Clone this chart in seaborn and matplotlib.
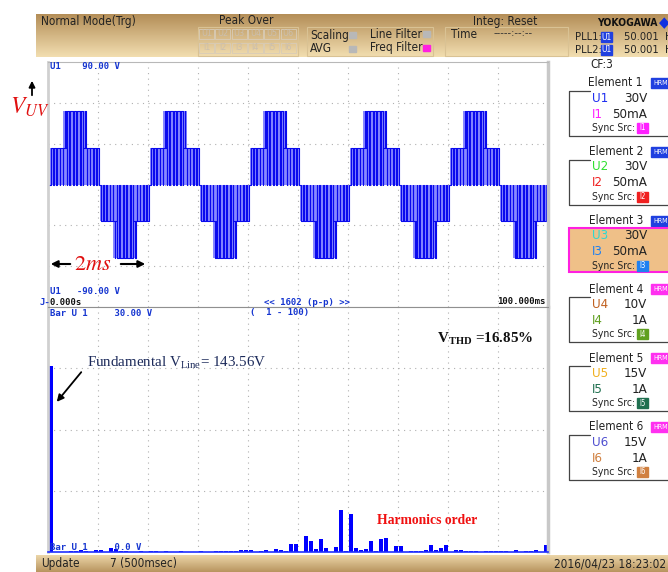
import matplotlib
matplotlib.use("Agg")
import matplotlib.pyplot as plt
from matplotlib.colors import LinearSegmentedColormap
from matplotlib.patches import FancyArrowPatch, Rectangle
import numpy as np
import pandas as pd
import seaborn as sns

W, H = 668, 572

# ── Data ─────────────────────────────────────────────────────────────
# U1 trace: one half cycle split in carrier slots, levels in V
PERIOD_MS = 20.0
N_CYCLES = 5
PHASE_MS = 0.4
SLOT_MS = 10.0 / 15
SLOT_LOW = [0, 0, 0, 0, 27, 0, 27, 0, 27, 0, 27, 0, 0, 0, 0]
SLOT_HIGH = [27, 27, 27, 27, 54, 54, 54, 54, 54, 54, 54, 27, 27, 27, 27]
SLOT_DUTY = [0.55, 0.75, 0.88, 0.95, 0.3, 0.6, 0.8, 0.85, 0.8, 0.6, 0.3, 0.95, 0.88, 0.75, 0.55]

# harmonic bar graph, orders 1..100, V on a 30 V full scale
HARM_ORDER = list(range(1, 101))
HARM_V = [
    22.8, 0, 0, 0, 0.1, 0.1, 0.25, 0.15, 0.05, 0.25,
    0.3, 0.05, 0.55, 0.4, 0.1, 0.1, 0.05, 0, 0.12, 0,
    0.15, 0.15, 0, 0.12, 0.05, 0, 0.1, 0, 0, 0,
    0.1, 0, 0, 0.12, 0.1, 0.1, 0.1, 0.1, 0.2, 0.2,
    0.2, 0, 0.1, 0.25, 0, 0.35, 0.2, 0.1, 0.95, 0.95,
    0, 1.95, 1.35, 0.4, 1.55, 0.5, 0, 0.6, 5.2, 0.15,
    4.6, 0.45, 0.2, 0.35, 1.4, 0.15, 1.55, 1.7, 0, 0.75,
    0.75, 0, 0.12, 0.12, 0.12, 0.2, 0.8, 0.2, 0.45, 0.8,
    0, 0.2, 0.25, 0.15, 0.15, 0.15, 0, 0.15, 0.15, 0.15,
    0.15, 0.15, 0, 0.25, 0, 0.12, 0.12, 0.25, 0, 0.85,
]

# side panel
ELEMENTS = ["Element 1", "Element 2", "Element 3", "Element 4", "Element 5", "Element 6"]
U_RANGE = ["30V", "30V", "30V", "10V", "15V", "15V"]
I_RANGE = ["50mA", "50mA", "50mA", "1A", "1A", "1A"]
U_COLORS = ["#2030f0", "#30e030", "#30d8d0", "#c06020", "#f0b020", "#5050d0"]
I_COLORS = ["#ff20ff", "#f02020", "#2080f0", "#60a020", "#207050", "#d08040"]
HRM_TAGS = ["HRM1", "HRM1", "HRM1", "HRM2", "HRM2", "HRM2"]

SANS = ["DejaVu Sans"]
SERIF = ["Liberation Serif", "DejaVu Serif"]
BLUE_TXT = "#1535d0"

sns.set_style("white")
plt.rcParams["font.family"] = SANS
plt.rcParams["font.stretch"] = "condensed"
plt.rcParams["mathtext.fontset"] = "stix"

fig = plt.figure(figsize=(W / 100, H / 100), dpi=100)


def fx(x):
    return x / W


def fy(y):
    return 1 - y / H


def ftext(x, y, s, **kw):
    kw.setdefault("va", "center")
    kw.setdefault("fontfamily", SANS)
    kw.setdefault("fontstretch", "condensed")
    return fig.text(fx(x), fy(y), s, **kw)


def frect(x0, y0, x1, y1, **kw):
    fig.add_artist(Rectangle((fx(x0), fy(y1)), fx(x1) - fx(x0), fy(y0) - fy(y1),
                             transform=fig.transFigure, **kw))


def fline(xs, ys, **kw):
    fig.add_artist(plt.Line2D([fx(x) for x in xs], [fy(y) for y in ys],
                              transform=fig.transFigure, **kw))


def farrow(a, b, **kw):
    fig.add_artist(FancyArrowPatch((fx(a[0]), fy(a[1])), (fx(b[0]), fy(b[1])),
                                   transform=fig.transFigure, arrowstyle="-|>",
                                   color="black", **kw))


def band(y0, y1, colors):
    ax = fig.add_axes([fx(36), fy(y1), fx(W) - fx(36), fy(y0) - fy(y1)])
    ax.imshow(np.linspace(0, 1, 64)[:, None], aspect="auto", extent=(0, 1, 0, 1),
              cmap=LinearSegmentedColormap.from_list("tan", colors))
    ax.axis("off")


# ── Header / footer bands ────────────────────────────────────────────
band(14, 57, ["#b48e58", "#f2deb0"])
band(555, 572, ["#ecd6a8", "#b8945f"])

HDR = dict(fontsize=8.5, color="#222")
ftext(41, 22, "Normal Mode(Trg)", **HDR)
ftext(246, 21, "Peak Over", ha="center", **HDR)
frect(198, 27, 298, 56, fill=False, ec="#d9c294", lw=0.8)
for i in range(6):
    frect(199 + 16.3 * i, 29, 214 + 16.3 * i, 39, fill=False, ec="#d8ccb8", lw=0.6)
    frect(199 + 16.3 * i, 43, 214 + 16.3 * i, 53, fill=False, ec="#d8ccb8", lw=0.6)
    ftext(206.5 + 16.3 * i, 34, f"U{i + 1}", fontsize=6.5, color="#cbbfae", ha="center")
    ftext(206.5 + 16.3 * i, 48, f"I{i + 1}", fontsize=6.5, color="#cbbfae", ha="center")
frect(307, 27, 433, 56, fill=False, ec="#d9c294", lw=0.8)
ftext(310, 35, "Scaling", **HDR)
ftext(310, 49, "AVG", **HDR)
frect(349, 32, 356, 38, color="#b8b8b8")
frect(349, 46, 356, 52, color="#b8b8b8")
ftext(370, 34, "Line Filter", **HDR)
ftext(370, 48, "Freq Filter", **HDR)
frect(423, 31, 430, 37, color="#b8b8b8")
frect(423, 45, 430, 51, color="#ff20e0")
frect(445, 27, 568, 56, fill=False, ec="#d9c294", lw=0.8)
ftext(505, 21, "Integ: Reset", ha="center", **HDR)
ftext(451, 34, "Time", **HDR)
ftext(494, 33, "-----:--:--", fontsize=8, color="#333")
ftext(597, 23, "YOKOGAWA", fontsize=7.5, color="#111", fontweight="bold")
fig.text(fx(664), fy(23), "\u25c6", fontsize=11, color="#1030e0", va="center", ha="center",
         fontfamily=["DejaVu Sans"])
for j, yy in enumerate((37, 50)):
    ftext(575, yy, f"PLL{j + 1}:", fontsize=8, color="#222")
    frect(601, yy - 5, 612, yy + 5, color="#2040e0")
    ftext(606.5, yy, "U1", fontsize=6, color="white", ha="center")
    ftext(624, yy, "50.001  Hz", fontsize=8, color="#222")

ftext(41, 564, "Update", **HDR)
ftext(110, 564, "7 (500msec)", **HDR)
ftext(666, 564, "2016/04/23 18:23:02", ha="right", **HDR)

# ── Waveform panel ───────────────────────────────────────────────────
t, v = [0.0], [0.0]
ax = fig.add_axes([fx(48), fy(307), fx(548) - fx(48), fy(62) - fy(307)])
for c in range(N_CYCLES):
    for half, sign in ((0, 1), (1, -1)):
        t0 = PHASE_MS + c * PERIOD_MS + half * PERIOD_MS / 2
        for k, (lo, hi, d) in enumerate(zip(SLOT_LOW, SLOT_HIGH, SLOT_DUTY)):
            s0 = t0 + k * SLOT_MS
            on = s0 + (1 - d) * SLOT_MS / 2
            off = on + d * SLOT_MS
            t += [s0, on, on, off, off, s0 + SLOT_MS]
            v += [sign * lo] * 2 + [sign * hi] * 2 + [sign * lo] * 2
            ax.fill_between([s0, s0 + SLOT_MS], 0, sign * hi, color="#8a8aff", lw=0)
wave = pd.DataFrame({"t": t, "v": v})
wave = wave[wave["t"] <= 100]
sns.lineplot(data=wave, x="t", y="v", estimator=None, sort=False, ax=ax,
             color="#0a0aee", lw=0.8)
ax.set_xlim(0, 100)
ax.set_ylim(-90, 90)
ax.set_xticks(np.arange(10, 100, 10))
ax.set_yticks([-60, -30, 0, 30, 60])
ax.grid(True, color="#b0b0b0", lw=0.8, linestyle=(0, (1, 4)))
ax.set_axisbelow(True)
ax.tick_params(length=0, labelbottom=False, labelleft=False)
ax.set(xlabel="", ylabel="")
for s in ax.spines.values():
    s.set_color("#b8b8b8")
    s.set_linewidth(0.8)
ax.spines["left"].set_linewidth(2)
ax.spines["left"].set_color("#d0d0d0")
ax.spines["right"].set_linewidth(2.5)
ax.spines["right"].set_color("#c8c8c8")

# ── Harmonic bar panel ───────────────────────────────────────────────
axb = fig.add_axes([fx(48), fy(552), fx(548) - fx(48), fy(307) - fy(552)])
sns.barplot(x=HARM_ORDER, y=HARM_V, native_scale=True, color="#0000ff", saturation=1,
            width=0.8, linewidth=0, ax=axb)
axb.set_xlim(0.5, 100.5)
axb.set_ylim(0, 30)
axb.set_xticks(np.arange(10.5, 100, 10))
axb.set_yticks([7.5, 15, 22.5])
axb.grid(True, color="#b0b0b0", lw=0.8, linestyle=(0, (1, 4)))
axb.set_axisbelow(True)
axb.tick_params(length=0, labelbottom=False, labelleft=False)
axb.set(xlabel="", ylabel="")
for s in axb.spines.values():
    s.set_color("#b8b8b8")
    s.set_linewidth(0.8)
axb.spines["left"].set_linewidth(2)
axb.spines["left"].set_color("#d0d0d0")
axb.spines["right"].set_linewidth(2.5)
axb.spines["right"].set_color("#c8c8c8")
axb.spines["bottom"].set_color("#2030ff")
axb.spines["bottom"].set_linewidth(1.2)
axb.spines["top"].set_color("#909090")

# instrument labels inside the panels
small = dict(fontsize=6.5, fontweight="bold", fontfamily=["DejaVu Sans Mono", "DejaVu Sans"],
             fontstretch="normal")
ftext(50, 67, "U1    90.00 V", color=BLUE_TXT, **small)
ftext(50, 292, "U1   -90.00 V", color=BLUE_TXT, **small)
ftext(39, 302, "J-", color=BLUE_TXT, **small)
ftext(50, 302, "0.000s", color="#111", **small)
ftext(264, 302, "<< 1602 (p-p) >>", color=BLUE_TXT, **small)
ftext(545, 301, "100.000ms", color="#111", ha="right", **small)
ftext(50, 313, "Bar U 1     30.00 V", color=BLUE_TXT, **small)
ftext(250, 313, "(  1 - 100)", color=BLUE_TXT, **small)
ftext(50, 547, "Bar U 1     0.0 V", color=BLUE_TXT, **small)

# author annotations
serif = dict(fontfamily=SERIF, fontstretch="normal")
ftext(10, 107, r"$V_{UV}$", fontsize=17, color="#e01010")
farrow((32, 98), (32, 78), mutation_scale=9, lw=1.3)
ftext(93, 264, r"$2ms$", fontsize=16, color="#e01010", ha="center")
farrow((73, 264), (48, 264), mutation_scale=10, lw=1.5)
farrow((118, 264), (148, 264), mutation_scale=10, lw=1.5)
ftext(87, 363, r"Fundamental V$_{\mathregular{Line}}$= 143.56V", fontsize=10.8,
      color="#1c2a5a", **serif)
farrow((83, 370), (55, 404), mutation_scale=10, lw=1.3)
ftext(437, 339, r"V$_{\mathregular{THD}}$ =16.85%", fontsize=10.8, color="#111",
      fontweight="bold", **serif)
ftext(377, 520, "Harmonics order", fontsize=9.8, color="#f01010",
      fontweight="bold", **serif)

# ── Side panel ───────────────────────────────────────────────────────
ftext(602, 65, "CF:3", ha="center", **HDR)
for i, name in enumerate(ELEMENTS):
    y0 = 83 + 68.8 * i
    ftext(643, y0, name, ha="right", **HDR)
    frect(651, y0 - 5, 670, y0 + 5, color="#2040e0" if i < 3 else "#ff30f0")
    ftext(653, y0, HRM_TAGS[i], fontsize=5, color="white")
    if i == 2:
        frect(569, y0 + 7, 670, y0 + 51, fc="#efc088", ec="#ff20e0", lw=1.5)
    else:
        fline([590, 569, 569, 670], [y0 + 8, y0 + 8, y0 + 53, y0 + 53], color="#444", lw=0.9)
    ftext(592, y0 + 15, f"U{i + 1}", fontsize=9.5, color=U_COLORS[i])
    ftext(647, y0 + 15, U_RANGE[i], fontsize=9.5, color="#222", ha="right")
    ftext(592, y0 + 31, f"I{i + 1}", fontsize=9.5, color=I_COLORS[i])
    ftext(647, y0 + 31, I_RANGE[i], fontsize=9.5, color="#222", ha="right")
    ftext(592, y0 + 45, "Sync Src:", fontsize=7.5, color="#222")
    frect(637, y0 + 40, 648, y0 + 50, color=I_COLORS[i])
    ftext(642.5, y0 + 45, f"I{i + 1}", fontsize=5.5, color="white", ha="center")

fig.savefig("out.png", dpi=100)
